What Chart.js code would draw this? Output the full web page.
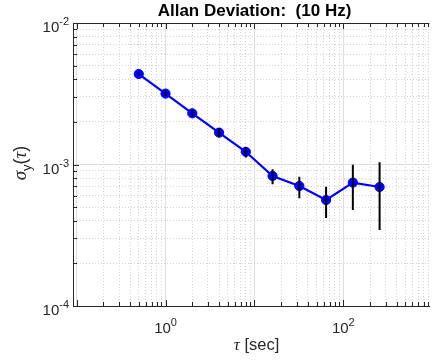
<!DOCTYPE html>
<html>
<head>
<meta charset="utf-8">
<script src="https://cdn.jsdelivr.net/npm/chart.js@4.4.1/dist/chart.umd.min.js"></script>
<style>
  html, body { margin: 0; padding: 0; background: #fff; }
  #wrap { width: 435px; height: 361px; }
</style>
</head>
<body>
<div id="wrap"><canvas id="adev" width="435" height="361"></canvas></div>
<script>
// averaging time [s] and Allan deviation
const tau = [0.5, 1, 2, 4, 8, 16, 32, 64, 128, 256];
const adev = [4.36e-3, 3.17e-3, 2.30e-3, 1.68e-3, 1.23e-3, 8.3e-4, 7.05e-4, 5.61e-4, 7.45e-4, 6.93e-4];
const adevLow = [4.27e-3, 3.05e-3, 2.18e-3, 1.56e-3, 1.12e-3, 7.24e-4, 5.77e-4, 4.19e-4, 4.77e-4, 3.44e-4];
const adevHigh = [4.45e-3, 3.32e-3, 2.43e-3, 1.80e-3, 1.33e-3, 9.25e-4, 8.2e-4, 6.97e-4, 9.97e-4, 1.038e-3];

const xTickLabels = [{ value: 1, exp: '0' }, { value: 100, exp: '2' }];
const yTickLabels = [{ value: 1e-2, exp: '-2' }, { value: 1e-3, exp: '-3' }, { value: 1e-4, exp: '-4' }];
const titleText = 'Allan Deviation:  (10 Hz)';
const xMin = 0.091, xMax = 930;
const yMin = 1e-4, yMax = 1e-2;

const axisColor = '#262626';
const sans = '"Liberation Sans", Arial, sans-serif';
const serif = '"Liberation Serif", "DejaVu Serif", serif';

// 1..9 x 10^n ticks for the log grid
const logTicks = (min, max) => {
  const ticks = [];
  for (let e = Math.floor(Math.log10(min)); e <= Math.ceil(Math.log10(max)); e++) {
    for (let m = 1; m <= 9; m++) {
      const v = m * Math.pow(10, e);
      if (v >= min * 0.999 && v <= max * 1.001) ticks.push({ value: v, major: m === 1 });
    }
  }
  return ticks;
};

const gridOpts = {
  drawTicks: false,
  color: (c) => (c.tick && c.tick.major) ? '#dedede' : '#d2d2d2',
  lineWidth: 1
};
const borderOpts = {
  display: true,
  color: axisColor,
  width: 1,
  dash: (c) => (c.tick && !c.tick.major) ? [1, 2] : []
};

const errorSets = tau.map((t, i) => ({
  data: [{ x: t, y: adevLow[i] }, { x: t, y: adevHigh[i] }],
  borderColor: '#000000',
  borderWidth: 2,
  pointRadius: 0,
  order: 0
}));

const drawPow = (ctx, x, y, exp, align) => {
  ctx.font = '15px ' + sans;
  const wb = ctx.measureText('10').width;
  ctx.font = '11px ' + sans;
  const we = ctx.measureText(exp).width;
  const x0 = align === 'right' ? x - wb - we : x - (wb + we) / 2;
  ctx.font = '15px ' + sans;
  ctx.fillText('10', x0, y);
  ctx.font = '11px ' + sans;
  ctx.fillText(exp, x0 + wb, y - 7);
};

const decorations = {
  id: 'decorations',
  afterDraw(chart) {
    const { ctx, chartArea: area, scales: { x, y } } = chart;
    ctx.save();

    // top frame line
    ctx.strokeStyle = axisColor;
    ctx.lineWidth = 1;
    ctx.beginPath();
    ctx.moveTo(area.left, area.top + 0.5);
    ctx.lineTo(area.right, area.top + 0.5);
    ctx.stroke();

    // inward tick marks
    ctx.beginPath();
    x.ticks.forEach((t) => {
      const px = Math.round(x.getPixelForValue(t.value)) + 0.5;
      const len = t.major ? 6 : 4;
      ctx.moveTo(px, area.bottom);
      ctx.lineTo(px, area.bottom - len);
      ctx.moveTo(px, area.top);
      ctx.lineTo(px, area.top + len);
    });
    y.ticks.forEach((t) => {
      const py = Math.round(y.getPixelForValue(t.value)) + 0.5;
      const len = t.major ? 6 : 4;
      ctx.moveTo(area.left, py);
      ctx.lineTo(area.left + len, py);
    });
    ctx.stroke();

    // tick labels
    ctx.fillStyle = axisColor;
    ctx.textAlign = 'left';
    ctx.textBaseline = 'alphabetic';
    xTickLabels.forEach((t) => drawPow(ctx, x.getPixelForValue(t.value), area.bottom + 27, t.exp, 'center'));
    yTickLabels.forEach((t) => drawPow(ctx, area.left - 4, y.getPixelForValue(t.value) + 9, t.exp, 'right'));

    // title
    ctx.fillStyle = '#000';
    ctx.font = 'bold 17px ' + sans;
    ctx.textAlign = 'center';
    ctx.fillText(titleText, 254.5, 16);

    // x label: tau [sec]
    ctx.fillStyle = axisColor;
    ctx.textAlign = 'left';
    ctx.font = 'italic 17px ' + serif;
    const wTau = ctx.measureText('\u03c4').width;
    ctx.font = '16.5px ' + sans;
    const wSec = ctx.measureText(' [sec]').width;
    const xl0 = 256.5 - (wTau + wSec) / 2;
    ctx.font = 'italic 17px ' + serif;
    ctx.fillText('\u03c4', xl0, 350);
    ctx.font = '16.5px ' + sans;
    ctx.fillText(' [sec]', xl0 + wTau, 350);

    // y label: sigma_y(tau), rotated
    ctx.translate(26, 163);
    ctx.rotate(-Math.PI / 2);
    const parts = [
      { t: '\u03c3', f: 'italic 19px ' + serif, dy: 0 },
      { t: 'y', f: '13px ' + sans, dy: 5 },
      { t: '(', f: '18px ' + sans, dy: 0 },
      { t: '\u03c4', f: 'italic 19px ' + serif, dy: 0 },
      { t: ')', f: '18px ' + sans, dy: 0 }
    ];
    let total = 0;
    parts.forEach((p) => { ctx.font = p.f; p.w = ctx.measureText(p.t).width; total += p.w; });
    let cx = -total / 2;
    parts.forEach((p) => { ctx.font = p.f; ctx.fillText(p.t, cx, p.dy); cx += p.w; });

    ctx.restore();
  }
};

new Chart(document.getElementById('adev'), {
  type: 'line',
  data: {
    datasets: [
      {
        data: tau.map((t, i) => ({ x: t, y: adev[i] })),
        borderColor: '#0000ff',
        backgroundColor: '#0000ff',
        borderWidth: 2.2,
        pointRadius: 4.6,
        pointBorderWidth: 1,
        pointBorderColor: '#0000ff',
        pointBackgroundColor: '#0000ff',
        order: 1
      },
      ...errorSets
    ]
  },
  options: {
    responsive: false,
    devicePixelRatio: 1,
    animation: false,
    layout: { padding: { left: 73, top: 23, right: 0, bottom: 55 } },
    plugins: { legend: { display: false }, tooltip: { enabled: false }, title: { display: false } },
    scales: {
      x: {
        type: 'logarithmic',
        min: xMin,
        max: xMax,
        afterBuildTicks: (s) => { s.ticks = logTicks(xMin, xMax); },
        ticks: { display: false },
        grid: gridOpts,
        border: borderOpts
      },
      y: {
        type: 'logarithmic',
        min: yMin,
        max: yMax,
        afterBuildTicks: (s) => { s.ticks = logTicks(yMin, yMax); },
        ticks: { display: false },
        grid: gridOpts,
        border: borderOpts
      }
    }
  },
  plugins: [decorations]
});
</script>
</body>
</html>
